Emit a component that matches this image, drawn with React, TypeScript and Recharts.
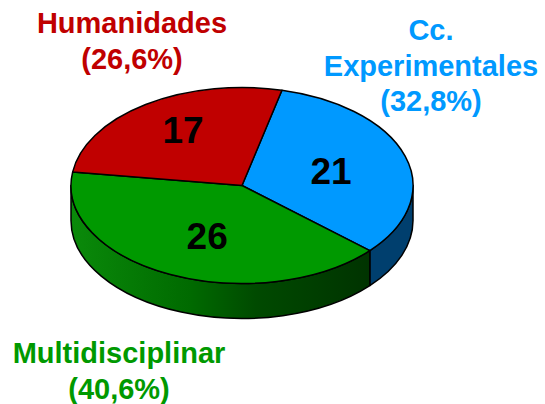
import { PieChart, Pie, Cell } from 'recharts'

const categories = ['Cc. Experimentales', 'Multidisciplinar', 'Humanidades']
const counts = [21, 26, 17]
const shares = ['(32,8%)', '(40,6%)', '(26,6%)']
const colors = ['#0099FF', '#009900', '#C00000']
const wallFills = ['#003F6E', 'url(#greenWall)', '#7A0000']

const nameLines = [['Cc.', 'Experimentales'], ['Multidisciplinar'], ['Humanidades']]
const nameAnchors = [
  { x: 431, y: 40 },
  { x: 119, y: 363 },
  { x: 132, y: 33 },
]
// hand nudges for the counts, the original does not sit them exactly on the mid angle
const countNudges = [
  { x: -4, y: 3 },
  { x: 6, y: 0 },
  { x: -4, y: -9 },
]

const FONT = '"Liberation Sans", Arial, sans-serif'
const SQUASH = 0.573
const DEPTH = 35
const RAD = Math.PI / 180

const point = (cx: number, cy: number, r: number, deg: number) => ({
  x: cx + r * Math.cos(deg * RAD),
  y: cy - r * SQUASH * Math.sin(deg * RAD),
})

// tilted slice: the library gives the angles, we flatten them onto an ellipse
function TiltedSlice(props: any) {
  const { cx, cy, outerRadius: r, startAngle, endAngle, fill, index } = props
  const ry = r * SQUASH
  const a = point(cx, cy, r, startAngle)
  const b = point(cx, cy, r, endAngle)
  const large = Math.abs(startAngle - endAngle) > 180 ? 1 : 0

  // only the part facing front (-180..0) shows a wall
  const wallStart = Math.min(startAngle, 0)
  const wallEnd = Math.max(endAngle, -180)
  let wall = null
  if (wallStart > wallEnd) {
    const p = point(cx, cy, r, wallStart)
    const q = point(cx, cy, r, wallEnd)
    wall = (
      <path
        d={`M${p.x},${p.y} A${r},${ry} 0 0 1 ${q.x},${q.y} L${q.x},${q.y + DEPTH} A${r},${ry} 0 0 0 ${p.x},${p.y + DEPTH} Z`}
        fill={wallFills[index]}
        stroke="#000"
        strokeWidth={1.5}
        strokeLinejoin="round"
      />
    )
  }

  return (
    <g>
      {wall}
      <path
        d={`M${cx},${cy} L${a.x},${a.y} A${r},${ry} 0 ${large} 1 ${b.x},${b.y} Z`}
        fill={fill}
        stroke="#000"
        strokeWidth={1.5}
        strokeLinejoin="round"
      />
    </g>
  )
}

function SliceLabel(props: any) {
  const { cx, cy, outerRadius: r, midAngle, index, value } = props
  const c = point(cx, cy, r * 0.57, midAngle)
  const nudge = countNudges[index]
  const anchor = nameAnchors[index]
  const lines = [...nameLines[index], shares[index]]
  return (
    <g fontFamily={FONT} fontWeight="bold">
      <text
        x={c.x + nudge.x}
        y={c.y + nudge.y}
        textAnchor="middle"
        dominantBaseline="central"
        fontSize={37}
        fill="#000"
      >
        {value}
      </text>
      {lines.map((line, i) => (
        <text key={line} x={anchor.x} y={anchor.y + i * 35.5} textAnchor="middle" fontSize={29} fill={colors[index]}>
          {line}
        </text>
      ))}
    </g>
  )
}

const data = categories.map((name, i) => ({ name, value: counts[i] }))

export default function App() {
  return (
    <div style={{ position: 'absolute', left: 0, top: 0, width: 545, height: 404 }}>
      <PieChart width={545} height={404} margin={{ top: 0, right: 0, bottom: 0, left: 0 }}>
        <defs>
          <linearGradient id="greenWall" x1="0" y1="0" x2="1" y2="0">
            <stop offset="0%" stopColor="#0A8A0A" />
            <stop offset="40%" stopColor="#006A00" />
            <stop offset="62%" stopColor="#004A00" />
            <stop offset="100%" stopColor="#003300" />
          </linearGradient>
        </defs>
        <Pie
          data={data}
          dataKey="value"
          cx={242}
          cy={185.5}
          innerRadius={0}
          outerRadius={171}
          startAngle={76.5}
          endAngle={-283.5}
          stroke="#000"
          shape={TiltedSlice}
          label={SliceLabel}
          labelLine={false}
          isAnimationActive={false}
        >
          {data.map((d, i) => (
            <Cell key={d.name} fill={colors[i]} />
          ))}
        </Pie>
      </PieChart>
    </div>
  )
}
